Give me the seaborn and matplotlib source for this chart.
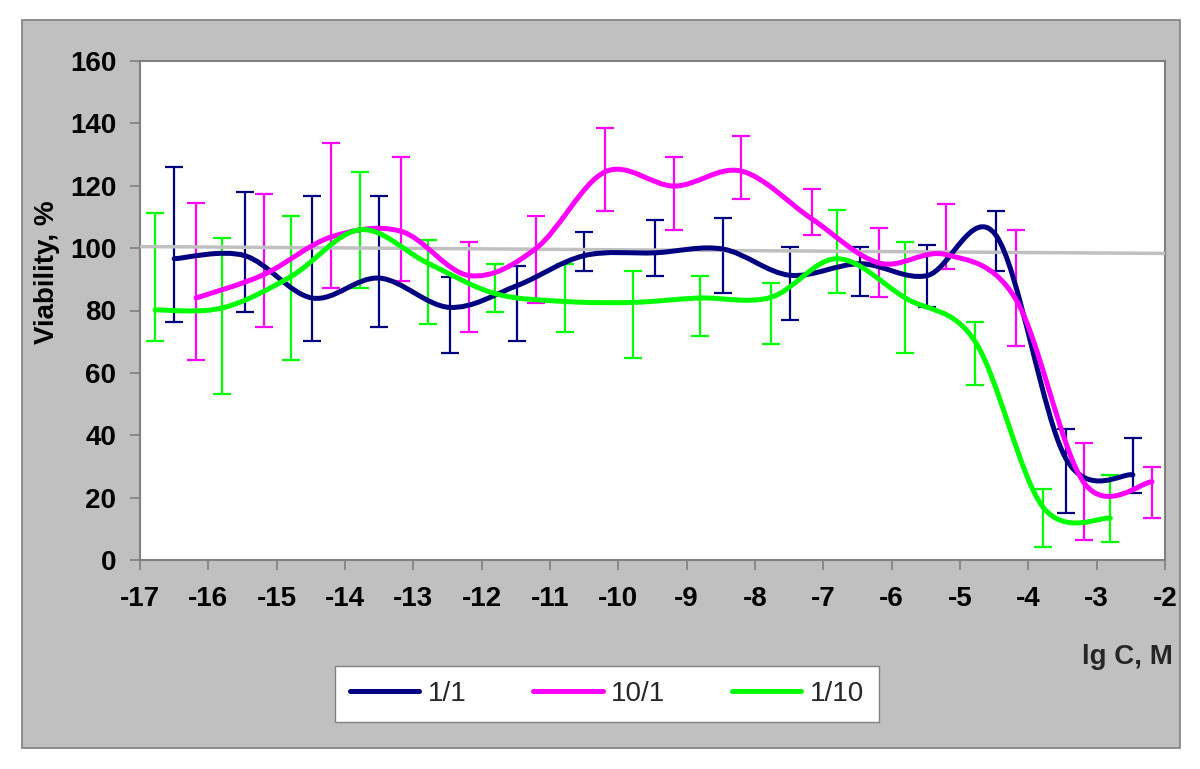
import numpy as np
import pandas as pd
import matplotlib
matplotlib.use('Agg')
import matplotlib.pyplot as plt
import seaborn as sns
from matplotlib.path import Path
from matplotlib.patches import PathPatch, Rectangle
from matplotlib.lines import Line2D

# series (lg C, viability %, error bar low / high)
series_names = ['1/1', '10/1', '1/10']
colors = ['#000080', '#ff00ff', '#00ff00']

x_11 = [-16.5, -15.47, -14.48, -13.5, -12.47, -11.48, -10.5, -9.46, -8.47, -7.49, -6.46, -5.48, -4.48, -3.45, -2.47]
y_11 = [96.6, 97.6, 84.0, 90.4, 81.0, 88.0, 97.6, 98.5, 99.7, 91.3, 95.0, 91.2, 104.3, 32.5, 27.3]
lo_11 = [76.3, 79.4, 70.1, 74.8, 66.3, 70.1, 92.6, 91.2, 85.6, 77.0, 84.8, 81.0, 92.8, 15.0, 21.4]
hi_11 = [126.1, 118.1, 116.6, 116.6, 90.9, 94.2, 105.1, 108.9, 109.7, 100.4, 100.4, 101.1, 111.8, 42.1, 39.1]

x_101 = [-16.18, -15.19, -14.2, -13.18, -12.18, -11.2, -10.19, -9.18, -8.2, -7.17, -6.18, -5.2, -4.18, -3.18, -2.19]
y_101 = [84.0, 91.5, 103.6, 105.4, 91.2, 100.0, 124.5, 119.9, 124.7, 109.4, 95.2, 97.9, 83.5, 24.6, 25.1]
lo_101 = [64.0, 74.8, 87.2, 89.6, 73.2, 82.4, 112.0, 105.8, 115.9, 104.2, 84.2, 93.4, 68.7, 6.4, 13.4]
hi_101 = [114.5, 117.5, 133.6, 129.2, 102.0, 110.4, 138.4, 129.2, 136.1, 119.0, 106.5, 114.3, 105.7, 37.5, 29.8]

x_110 = [-16.78, -15.8, -14.79, -13.78, -12.79, -11.8, -10.78, -9.79, -8.81, -7.77, -6.8, -5.8, -4.78, -3.79, -2.8]
y_110 = [80.2, 80.8, 90.9, 105.9, 95.2, 85.4, 82.9, 82.6, 84.0, 84.2, 96.6, 84.0, 70.1, 17.1, 13.4]
lo_110 = [70.1, 53.2, 64.0, 87.2, 75.7, 79.4, 73.2, 64.7, 71.7, 69.3, 85.6, 66.3, 56.2, 4.1, 5.9]
hi_110 = [111.3, 103.3, 110.4, 124.3, 102.7, 94.9, 94.9, 92.6, 91.2, 88.8, 112.1, 101.9, 76.2, 22.7, 27.3]

ref_x = [-17, -2]
ref_y = [100.5, 98.3]

x_ticks = list(range(-17, -1))
y_ticks = list(range(0, 161, 20))

frames = []
for name, xs, ys, lo, hi in [('1/1', x_11, y_11, lo_11, hi_11),
                             ('10/1', x_101, y_101, lo_101, hi_101),
                             ('1/10', x_110, y_110, lo_110, hi_110)]:
    frames.append(pd.DataFrame({'series': name, 'x': xs, 'y': ys, 'lo': lo, 'hi': hi}))
df = pd.concat(frames, ignore_index=True)


def smooth_path(xs, ys):
    # Excel-like smoothed line: cubic bezier through every data point
    pts = np.column_stack([xs, ys])
    n = len(pts)
    verts = [pts[0]]
    codes = [Path.MOVETO]
    for i in range(n - 1):
        p_prev = pts[i - 1] if i > 0 else pts[i]
        p_next = pts[i + 2] if i + 2 < n else pts[i + 1]
        verts += [pts[i] + (pts[i + 1] - p_prev) / 6,
                  pts[i + 1] - (p_next - pts[i]) / 6,
                  pts[i + 1]]
        codes += [Path.CURVE4] * 3
    return Path(verts, codes)


sns.set_theme(style='white')
plt.rcParams['font.family'] = ['Liberation Sans', 'DejaVu Sans']

fig = plt.figure(figsize=(12, 7.69), dpi=100)
fig.patch.set_facecolor('white')
fig.add_artist(Rectangle((22 / 1200, 1 - 748 / 769), 1158 / 1200, 728 / 769,
                         transform=fig.transFigure, facecolor='#c0c0c0',
                         edgecolor='#808080', lw=1.2, zorder=-5))

ax = fig.add_axes([140 / 1200, 1 - 560 / 769, 1025 / 1200, 499 / 769])
ax.set_facecolor('white')

palette = dict(zip(series_names, colors))
for name in series_names:
    d = df[df['series'] == name]
    c = palette[name]
    ax.errorbar(d['x'], d['y'], yerr=[d['y'] - d['lo'], d['hi'] - d['y']],
                fmt='none', ecolor=c, elinewidth=1.6, capsize=6.2, capthick=1.6, zorder=2)

ax.plot(ref_x, ref_y, color='#c0c0c0', lw=2.5, zorder=3)

for name in series_names:
    d = df[df['series'] == name]
    ax.add_patch(PathPatch(smooth_path(d['x'].values, d['y'].values), fill=False,
                           edgecolor=palette[name], lw=3.6, capstyle='round',
                           joinstyle='round', zorder=4))

ax.set_xlim(-17, -2)
ax.set_ylim(0, 160)
ax.set_xticks(x_ticks)
ax.set_yticks(y_ticks)
ax.set_xticklabels([str(v) for v in x_ticks], fontsize=20, fontweight='bold')
ax.set_yticklabels([str(v) for v in y_ticks], fontsize=20, fontweight='bold')
ax.tick_params(axis='both', direction='out', length=7, width=1.2, color='#808080',
               labelcolor='black', bottom=True, left=True)
ax.tick_params(axis='x', pad=12)
ax.tick_params(axis='y', pad=10)
for sp in ax.spines.values():
    sp.set_color('#808080')
    sp.set_linewidth(1.5)

ax.set_xlabel('')
ax.set_ylabel('Viability, %', fontsize=20, fontweight='bold', color='black')
ax.yaxis.set_label_coords(-0.078, 0.577)
fig.text(1173 / 1200, 1 - 657 / 769, 'lg C, M', fontsize=20, fontweight='bold',
         ha='right', va='center')

handles = [Line2D([], [], color=c, lw=3.6, solid_capstyle='round') for c in colors]
leg = fig.legend(handles, series_names, loc='center', bbox_to_anchor=(607 / 1200, 1 - 694 / 769),
                 ncol=3, frameon=True, fancybox=False, edgecolor='#808080', facecolor='white',
                 framealpha=1.0, fontsize=20, handlelength=2.5, handletextpad=0.3,
                 columnspacing=2.4, borderpad=0.55)
leg.get_frame().set_linewidth(1.0)

fig.savefig('out.png', dpi=100)
